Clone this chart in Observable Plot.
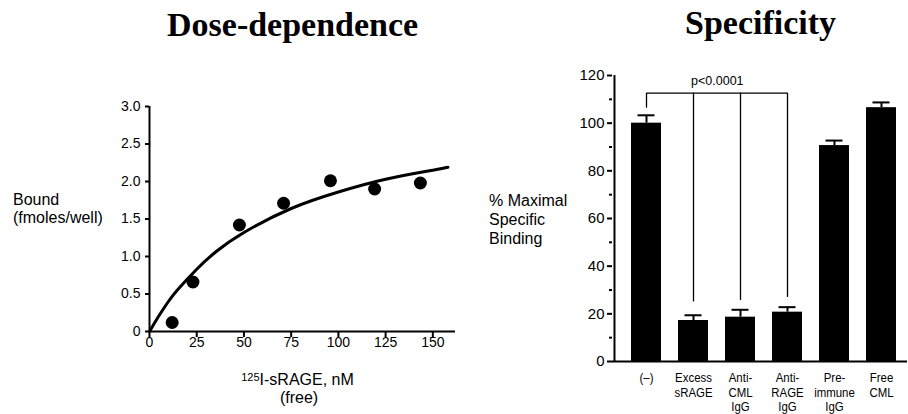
<!DOCTYPE html>
<html><head><meta charset="utf-8">
<script src="https://cdn.jsdelivr.net/npm/d3@7"></script>
<script src="https://cdn.jsdelivr.net/npm/@observablehq/plot@0.6"></script>
<style>
body{margin:0;background:#fff;}
#wrap{position:relative;width:908px;height:414px;overflow:hidden;background:#fff;}
#wrap > svg{position:absolute;}
</style></head><body><div id="wrap"></div>
<script>
// ---- Dose-dependence data ----
const doseX = [12, 23, 47.6, 71, 95.8, 119.2, 143.4];
const boundY = [0.12, 0.66, 1.42, 1.71, 2.01, 1.90, 1.98];
const fitX = [0, 5, 10, 15, 25, 35, 50, 75, 100, 125, 150, 158];
const fitY = [0, 0.21, 0.40, 0.56, 0.83, 1.06, 1.32, 1.64, 1.86, 2.03, 2.15, 2.19];
const xTicksL = [0, 25, 50, 75, 100, 125, 150];
const yTicksL = [0, 0.5, 1.0, 1.5, 2.0, 2.5, 3.0];

// ---- Specificity data ----
const categories = ["(–)", "Excess sRAGE", "Anti-CML IgG", "Anti-RAGE IgG", "Pre-immune IgG", "Free CML"];
const catLabels = ["(–)", "Excess\nsRAGE", "Anti-\nCML\nIgG", "Anti-\nRAGE\nIgG", "Pre-\nimmune\nIgG", "Free\nCML"];
const binding = [100, 17.2, 18.6, 20.7, 90.6, 106.5];
const sem = [3.3, 2.2, 3.1, 2.1, 2.1, 2.2];
const yTicksR = [0, 20, 40, 60, 80, 100, 120];
const yMinorR = [10, 30, 50, 70, 90, 110];
const bracketLevel = 112.6;
const bracketCats = ["(–)", "Excess sRAGE", "Anti-CML IgG", "Anti-RAGE IgG"];
const bracketEnds = [106.7, 25, 25.6, 27.3];
const pText = "p<0.0001";

const dose = doseX.map((x, i) => ({x, y: boundY[i]}));
const fit = fitX.map((x, i) => ({x, y: fitY[i]}));
const bars = categories.map((c, i) => ({c, v: binding[i], e: sem[i]}));
const drops = bracketCats.map((c, i) => ({c, v: bracketEnds[i]}));
const bracketPath = [
  {c: bracketCats[0], v: bracketEnds[0]},
  {c: bracketCats[0], v: bracketLevel},
  {c: bracketCats[3], v: bracketLevel},
  {c: bracketCats[3], v: bracketEnds[3]}
];

const font = "'Liberation Sans', Arial, sans-serif";
const wrap = document.getElementById("wrap");

const left = Plot.plot({
  width: 460, height: 414,
  marginLeft: 149, marginRight: 5, marginTop: 106, marginBottom: 83,
  x: {domain: [0, 162]},
  y: {domain: [0, 3]},
  style: {fontFamily: font, fontSize: "14px", color: "#000", background: "transparent", overflow: "visible"},
  marks: [
    Plot.axisY({ticks: yTicksL, tickFormat: d => d === 0 ? "0" : d.toFixed(1), tickSize: 4, tickPadding: 5, strokeWidth: 2, fontSize: 14, label: null}),
    Plot.axisX({ticks: xTicksL, tickSize: 6, tickPadding: 0, strokeWidth: 2, fontSize: 14, label: null}),
    Plot.ruleX([0], {strokeWidth: 2}),
    Plot.ruleY([0], {strokeWidth: 2}),
    Plot.line(fit, {x: "x", y: "y", curve: "natural", strokeWidth: 3}),
    Plot.dot(dose, {x: "x", y: "y", r: 6.5, fill: "#000"})
  ]
});
left.style.left = "0px"; left.style.top = "0px";
wrap.appendChild(left);

const innerW = 295;
const sb = d3.scaleBand().domain(categories).range([0, innerW]).paddingInner(0.37).paddingOuter(0.284).align(0.63);
const firstCenter = sb(categories[0]) + sb.bandwidth() / 2;
const halfStep = sb.step() / 2;

const right = Plot.plot({
  width: 448, height: 414,
  marginLeft: 152, marginRight: 1, marginTop: 75, marginBottom: 53,
  x: {domain: categories, paddingInner: 0.37, paddingOuter: 0.284, align: 0.63},
  y: {domain: [0, 120]},
  style: {fontFamily: font, fontSize: "14px", color: "#000", background: "transparent", overflow: "visible"},
  marks: [
    Plot.axisY({ticks: yMinorR, tickFormat: () => "", tickSize: 3, strokeWidth: 2, label: null}),
    Plot.axisY({ticks: yTicksR, tickSize: 5, tickPadding: 3, strokeWidth: 2, fontSize: 15, label: null}),
    Plot.axisX({tickSize: 0, tickPadding: 10, tickFormat: (d) => catLabels[categories.indexOf(d)], fontSize: 13, lineHeight: 1.13, label: null}),
    Plot.barY(bars, {x: "c", y: "v", fill: "#000"}),
    Plot.ruleX(bars, {x: "c", y1: "v", y2: d => d.v + d.e, strokeWidth: 2}),
    Plot.tickY(bars, {x: "c", y: d => d.v + d.e, strokeWidth: 2, insetLeft: 6.5, insetRight: 6.5}),
    Plot.line(bracketPath, {x: "c", y: "v", strokeWidth: 1.3}),
    Plot.ruleX(drops.slice(1, 3), {x: "c", y1: "v", y2: bracketLevel, strokeWidth: 1.3}),
    Plot.text([pText], {x: () => categories[1], y: () => 117.5, dx: halfStep, text: d => d, fontSize: 12.5}),
    Plot.ruleX([categories[0]], {dx: -firstCenter, strokeWidth: 2}),
    Plot.ruleY([0], {strokeWidth: 2})
  ]
});
right.style.left = "460px"; right.style.top = "0px";
// condense the category labels horizontally (narrow typeface in the reference)
right.querySelectorAll('g[aria-label="x-axis tick label"] text').forEach(t => {
  const tr = t.getAttribute("transform") || "";
  t.setAttribute("transform", tr + " scale(0.88,1)");
});
wrap.appendChild(right);

// ---- titles and axis labels (overlay) ----
const ns = "http://www.w3.org/2000/svg";
const ov = document.createElementNS(ns, "svg");
ov.setAttribute("width", 908); ov.setAttribute("height", 414);
ov.style.left = "0px"; ov.style.top = "0px"; ov.style.pointerEvents = "none";
function txt(x, y, s, size, opts = {}) {
  const t = document.createElementNS(ns, "text");
  t.setAttribute("x", x); t.setAttribute("y", y);
  t.setAttribute("font-size", size);
  t.setAttribute("font-family", opts.family || font);
  if (opts.bold) t.setAttribute("font-weight", "bold");
  if (opts.anchor) t.setAttribute("text-anchor", opts.anchor);
  t.setAttribute("fill", "#000");
  t.textContent = s;
  ov.appendChild(t);
  return t;
}
const serif = "'Liberation Serif', 'Times New Roman', serif";
txt(167, 36, "Dose-dependence", 34, {family: serif, bold: true});
txt(685, 33.5, "Specificity", 34, {family: serif, bold: true});
txt(13, 205, "Bound", 16);
txt(13, 223, "(fmoles/well)", 16);
txt(489, 206, "% Maximal", 16);
txt(489, 225, "Specific", 16);
txt(489, 244, "Binding", 16);
const xl = txt(297.5, 385, "", 16, {anchor: "middle"});
const sup = document.createElementNS(ns, "tspan");
sup.setAttribute("font-size", 11); sup.setAttribute("dy", -4); sup.textContent = "125";
const rest = document.createElementNS(ns, "tspan");
rest.setAttribute("dy", 4); rest.textContent = "I-sRAGE, nM";
xl.appendChild(sup); xl.appendChild(rest);
txt(299, 403, "(free)", 16, {anchor: "middle"});
wrap.appendChild(ov);
</script>
</body></html>
